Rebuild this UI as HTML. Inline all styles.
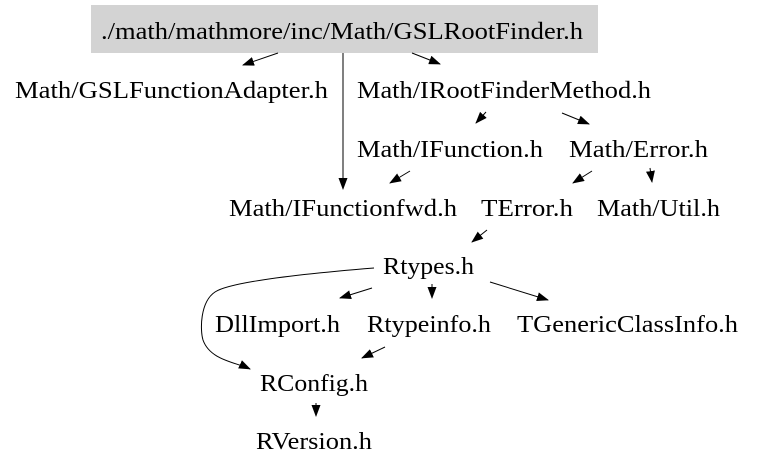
<!DOCTYPE html>
<html><head><meta charset="utf-8"><style>
html,body{margin:0;padding:0;background:#fff;}
svg{display:block;}
text{font-family:"Liberation Serif",serif;font-size:24px;fill:#000;}
</style></head><body>
<svg width="757" height="469" viewBox="0 0 757 469" xmlns="http://www.w3.org/2000/svg">
<defs><marker id="a" markerWidth="12" markerHeight="9" refX="11" refY="4.5" orient="auto" markerUnits="userSpaceOnUse"><path d="M0,0 L12,4.5 L0,9 z" fill="#000"/></marker></defs>
<rect x="91" y="5" width="507" height="48" fill="#d3d3d3"/>
<text x="101" y="39" textLength="482" lengthAdjust="spacingAndGlyphs">./math/mathmore/inc/Math/GSLRootFinder.h</text>
<text x="15" y="98" textLength="313" lengthAdjust="spacingAndGlyphs">Math/GSLFunctionAdapter.h</text>
<text x="357" y="98" textLength="294" lengthAdjust="spacingAndGlyphs">Math/IRootFinderMethod.h</text>
<text x="357" y="157" textLength="186" lengthAdjust="spacingAndGlyphs">Math/IFunction.h</text>
<text x="569" y="157" textLength="139" lengthAdjust="spacingAndGlyphs">Math/Error.h</text>
<text x="229" y="216" textLength="228" lengthAdjust="spacingAndGlyphs">Math/IFunctionfwd.h</text>
<text x="481" y="216" textLength="92" lengthAdjust="spacingAndGlyphs">TError.h</text>
<text x="597" y="216" textLength="123" lengthAdjust="spacingAndGlyphs">Math/Util.h</text>
<text x="383" y="274" textLength="91" lengthAdjust="spacingAndGlyphs">Rtypes.h</text>
<text x="215" y="332" textLength="125" lengthAdjust="spacingAndGlyphs">DllImport.h</text>
<text x="367" y="332" textLength="124" lengthAdjust="spacingAndGlyphs">Rtypeinfo.h</text>
<text x="517" y="332" textLength="221" lengthAdjust="spacingAndGlyphs">TGenericClassInfo.h</text>
<text x="260" y="391" textLength="108" lengthAdjust="spacingAndGlyphs">RConfig.h</text>
<text x="256" y="449" textLength="116" lengthAdjust="spacingAndGlyphs">RVersion.h</text>
<g stroke="#000" stroke-width="1" fill="none" marker-end="url(#a)">
<line x1="278" y1="53" x2="243" y2="65"/>
<line x1="343" y1="53" x2="343" y2="189"/>
<line x1="412" y1="53" x2="440" y2="64"/>
<line x1="486" y1="112" x2="476" y2="123"/>
<line x1="562" y1="113" x2="589" y2="124"/>
<line x1="410" y1="171" x2="390" y2="183"/>
<line x1="592" y1="171" x2="573" y2="183"/>
<line x1="650" y1="168" x2="652" y2="182"/>
<line x1="487" y1="230" x2="472" y2="242"/>
<line x1="372" y1="288" x2="340" y2="298"/>
<line x1="432" y1="284" x2="432" y2="298"/>
<line x1="490" y1="282" x2="548" y2="300"/>
<path d="M374,268 C300,274 230,282 215,292 C200,302 200,330 203,340 C210,360 235,362 250,369"/>
<line x1="385" y1="347" x2="362" y2="358"/>
<line x1="316" y1="403" x2="316" y2="416"/>
</g>
</svg>
</body></html>
